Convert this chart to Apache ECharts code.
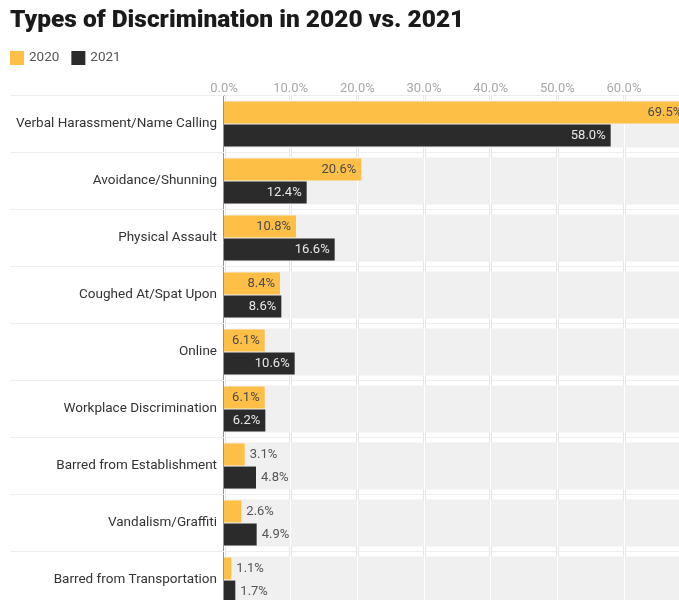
<!DOCTYPE html>
<html>
<head>
<meta charset="utf-8">
<script src="https://cdn.jsdelivr.net/npm/echarts@6/dist/echarts.min.js"></script>
<style>html,body{margin:0;padding:0;background:#fff}#c{width:679px;height:600px}</style>
</head>
<body>
<div id="c"></div>
<script>
const categories = [
  'Verbal Harassment/Name Calling',
  'Avoidance/Shunning',
  'Physical Assault',
  'Coughed At/Spat Upon',
  'Online',
  'Workplace Discrimination',
  'Barred from Establishment',
  'Vandalism/Graffiti',
  'Barred from Transportation'
];
const values2020 = [69.5, 20.6, 10.8, 8.4, 6.1, 6.1, 3.1, 2.6, 1.1];
const values2021 = [58.0, 12.4, 16.6, 8.6, 10.6, 6.2, 4.8, 4.9, 1.7];
const xMin = 0, xMax = 80, xInterval = 10, xLastLabel = 60;

const FONT = 'Roboto';
function labelFor(v, insideColor) {
  return v >= 5.5
    ? { position: 'insideRight', color: insideColor, distance: 5 }
    : { position: 'right', color: '#555', distance: 5 };
}
const fmt = p => p.value.toFixed(1) + '%';

const chart = echarts.init(document.getElementById('c'), null, { renderer: 'canvas' });
chart.setOption({
  backgroundColor: '#fff',
  animation: false,
  textStyle: { fontFamily: FONT },
  title: {
    text: 'Types of Discrimination in 2020 vs. 2021',
    left: 5, top: 3,
    textStyle: { fontFamily: FONT, fontSize: 24.5, fontWeight: 900, color: '#1a1a1a' }
  },
  legend: {
    data: ['2020', '2021'],
    left: 5, top: 46,
    icon: 'rect', itemWidth: 14, itemHeight: 14, itemGap: 12,
    textStyle: { fontFamily: FONT, fontSize: 13.5, color: '#555' }
  },
  grid: {
    left: 224, top: 95.5, right: 679 - (224 + 400 / 60 * xMax), bottom: -8.5,
    containLabel: false, outerBoundsMode: 'none'
  },
  xAxis: [
    {
      type: 'value', position: 'top', min: xMin, max: xMax, interval: xInterval, z: 0,
      axisLine: { show: false }, axisTick: { show: false },
      axisLabel: { color: '#a8a8a8', fontSize: 13, margin: 0,
        formatter: v => (v <= xLastLabel ? v.toFixed(1) + '%' : '') },
      splitLine: { show: true, lineStyle: { color: '#e6e6e6', width: 3 } }
    },
    {
      type: 'value', position: 'top', min: xMin, max: xMax, interval: xInterval, z: 1.5,
      axisLine: { show: false }, axisTick: { show: false }, axisLabel: { show: false },
      splitLine: { show: true, lineStyle: { color: '#ffffff', width: 1 } }
    }
  ],
  yAxis: [
    {
      type: 'category', data: categories, inverse: true,
      axisLine: { show: true, lineStyle: { color: '#777', width: 1.5 } },
      axisTick: { show: true, interval: 0, length: 214, lineStyle: { color: '#eeeeee' } },
      axisLabel: { color: '#333', fontSize: 13.5, margin: 7, fontFamily: FONT },
      splitLine: { show: true, lineStyle: { color: '#eeeeee' } }
    },
    { type: 'category', data: categories, inverse: true, show: false }
  ],
  series: [
    {
      name: 'band', type: 'bar', xAxisIndex: 0, yAxisIndex: 1, silent: true, z: 1,
      barWidth: 47, data: categories.map(() => xMax),
      itemStyle: { color: '#f0f0f0' }, label: { show: false }
    },
    {
      name: '2020', type: 'bar', yAxisIndex: 0, z: 3, barWidth: 22, barGap: '5%',
      itemStyle: { color: '#FDBF46' },
      label: { show: true, fontSize: 13, fontFamily: FONT, formatter: fmt },
      data: values2020.map(v => ({ value: v, label: labelFor(v, '#4a4a4a') }))
    },
    {
      name: '2021', type: 'bar', yAxisIndex: 0, z: 3, barWidth: 22, barGap: '5%',
      itemStyle: { color: '#2b2b2b' },
      label: { show: true, fontSize: 13, fontFamily: FONT, formatter: fmt },
      data: values2021.map(v => ({ value: v, label: labelFor(v, '#e8e8e8') }))
    }
  ]
});
</script>
</body>
</html>
